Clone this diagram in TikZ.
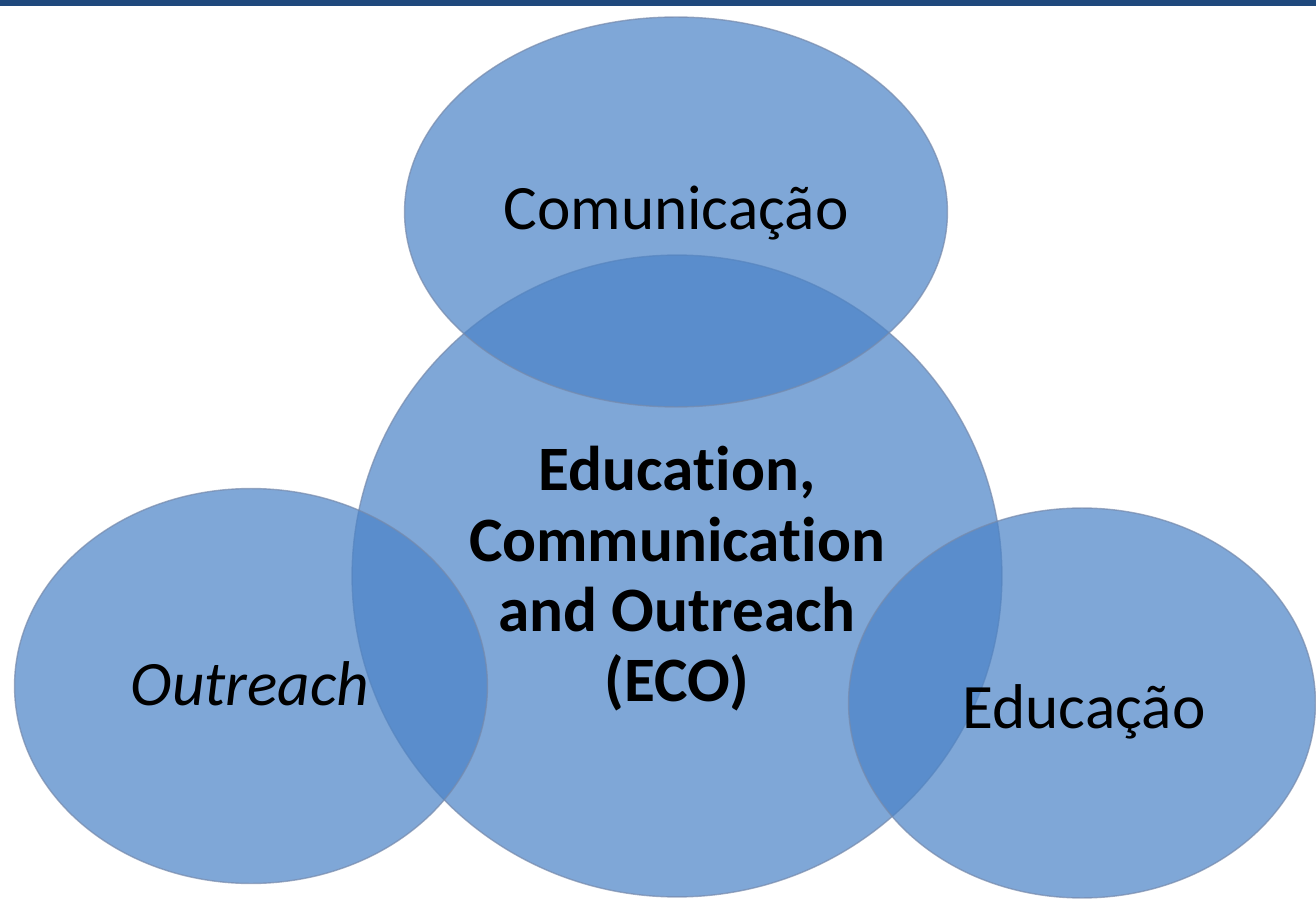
\documentclass[tikz,border=0pt]{standalone}
\usepackage{fontspec}
\setmainfont[Ligatures=NoCommon]{Carlito}
\usepackage{xcolor}
\usepackage{tikz}
\usetikzlibrary{shapes.geometric}

\definecolor{ecoblue}{RGB}{75,131,199}
\definecolor{ecorim}{RGB}{118,138,172}
\definecolor{topbar}{RGB}{31,73,125}

\begin{document}
\begin{tikzpicture}[x=0.02cm, y=-0.02cm]
	\useasboundingbox (0, 0) rectangle (1316, 902);
	\fill[topbar] (0, 0) rectangle (1316, 6);

	\begin{scope}[
		bubble/.style={ellipse, fill=ecoblue, fill opacity=0.71, draw=ecorim, draw opacity=0.7, line width=0.8pt, inner sep=0pt},
		caption/.style={anchor=base, font=\fontsize{36}{40}\selectfont, text=black, inner sep=0pt}]
		\node[bubble, minimum width=13cm, minimum height=12.84cm] (ECO) at (677, 576) {};
		\node[bubble, minimum width=10.86cm, minimum height=7.8cm] (COM) at (676, 212) {};
		\node[bubble, minimum width=9.46cm, minimum height=7.9cm] (OUT) at (251, 686) {};
		\node[bubble, minimum width=9.34cm, minimum height=7.8cm] (EDU) at (1082, 703) {};

		\node[caption] (COMt) at (676, 230) {Comunicação};
		\node[caption] (OUTt) at (250, 705) {\itshape Outreach};
		\node[caption] (EDUt) at (1084, 728) {Educação};
		\node[caption, anchor=center, align=center, font=\fontsize{36}{40}\selectfont\bfseries] (ECOt) at (677, 579)
			{Education,\\Communication\\and Outreach\\(ECO)};
	\end{scope}
\end{tikzpicture}
\end{document}
